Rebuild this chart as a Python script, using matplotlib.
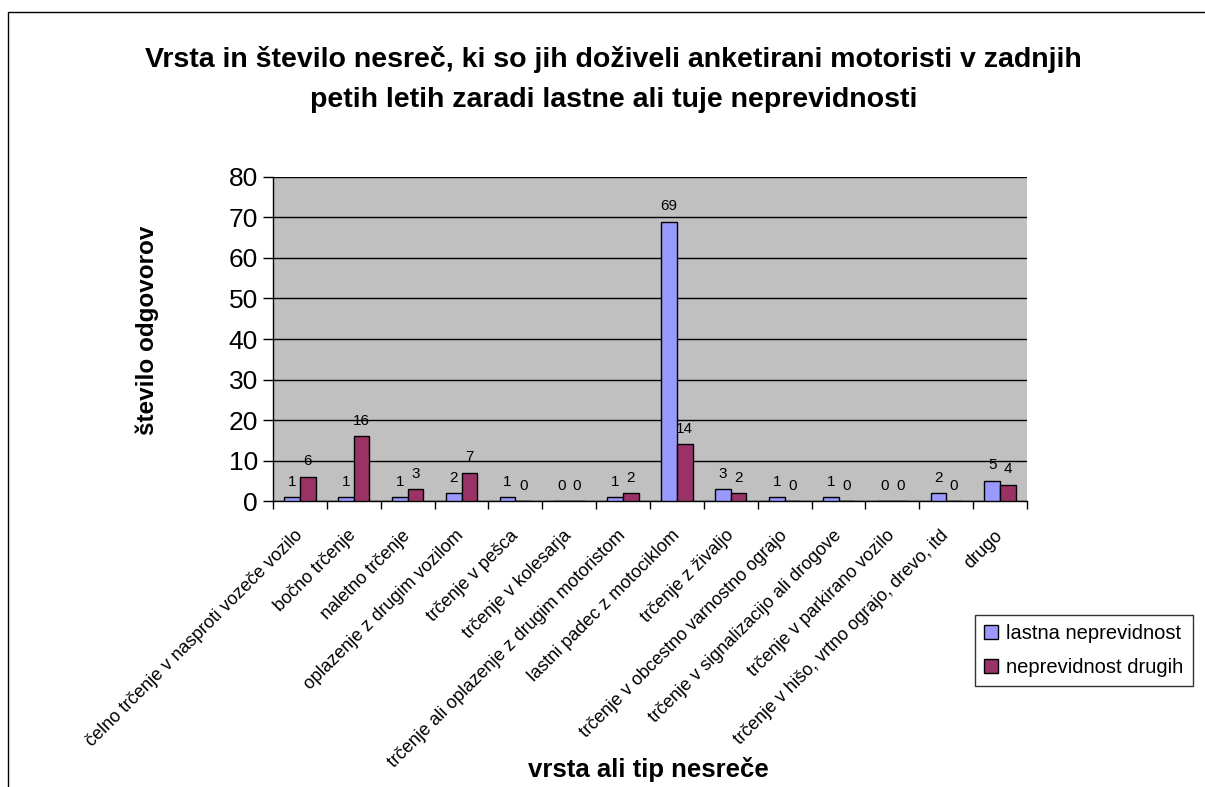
import numpy as np
import matplotlib
matplotlib.use("Agg")
import matplotlib.pyplot as plt
from matplotlib.patches import Rectangle

plt.rcParams['font.family'] = ['Liberation Sans', 'DejaVu Sans']

categories = [
    "čelno trčenje v nasproti vozeče vozilo",
    "bočno trčenje",
    "naletno trčenje",
    "oplazenje z drugim vozilom",
    "trčenje v pešca",
    "trčenje v kolesarja",
    "trčenje ali oplazenje z drugim motoristom",
    "lastni padec z motociklom",
    "trčenje z živaljo",
    "trčenje v obcestno varnostno ograjo",
    "trčenje v signalizacijo ali drogove",
    "trčenje v parkirano vozilo",
    "trčenje v hišo, vrtno ograjo, drevo, itd",
    "drugo",
]
lastna = [1, 1, 1, 2, 1, 0, 1, 69, 3, 1, 1, 0, 2, 5]
drugih = [6, 16, 3, 7, 0, 0, 2, 14, 2, 0, 0, 0, 0, 4]
series_names = ["lastna neprevidnost", "neprevidnost drugih"]
yticks = [0, 10, 20, 30, 40, 50, 60, 70, 80]

title = ("Vrsta in število nesreč, ki so jih doživeli anketirani motoristi v zadnjih\n"
         "petih letih zaradi lastne ali tuje neprevidnosti")

fig = plt.figure(figsize=(12.05, 7.87), dpi=100)
ax = fig.add_axes([0.2266, 0.3634, 0.6257, 0.4117])
ax.set_facecolor("#C0C0C0")

x = np.arange(len(categories))
w = 0.29
b1 = ax.bar(x - w / 2, lastna, w, color="#9999FF", edgecolor="black", linewidth=1,
            label=series_names[0], zorder=3)
b2 = ax.bar(x + w / 2, drugih, w, color="#993366", edgecolor="black", linewidth=1,
            label=series_names[1], zorder=3)

for bars, vals in ((b1, lastna), (b2, drugih)):
    for bar, v in zip(bars, vals):
        ax.annotate(str(v), (bar.get_x() + bar.get_width() / 2, v),
                    xytext=(0, 6), textcoords="offset points",
                    ha="center", va="bottom", fontsize=11)

ax.set_xlim(-0.5, len(categories) - 0.5)
ax.set_ylim(0, 80)
ax.set_yticks(yticks)
ax.tick_params(axis="y", labelsize=19, length=7, width=1, pad=4)
ax.yaxis.grid(True, color="black", linewidth=1, zorder=1)
ax.set_axisbelow(True)

# ticks between categories, labels at the centres
ax.set_xticks(np.arange(len(categories) + 1) - 0.5)
ax.set_xticklabels([])
ax.set_xticks(x, minor=True)
ax.set_xticklabels(categories, minor=True, rotation=45, ha="right",
                   va="center", rotation_mode="anchor", fontsize=13)
ax.tick_params(axis="x", which="major", length=6, width=1)
ax.tick_params(axis="x", which="minor", length=0, pad=23)

for side in ("top", "right"):
    ax.spines[side].set_visible(False)
for side in ("left", "bottom"):
    ax.spines[side].set_linewidth(1)

fig.text(0.509, 0.899, title, ha="center", va="center", fontsize=20.5,
         fontweight="bold", linespacing=1.7)
fig.text(0.122, 0.58, "število odgovorov", rotation=90, ha="center", va="center",
         fontsize=17.5, fontweight="bold")
fig.text(0.538, 0.022, "vrsta ali tip nesreče", ha="center", va="center",
         fontsize=18.5, fontweight="bold")

leg = fig.legend(handles=[b1, b2], loc="upper left",
                 bbox_to_anchor=(975 / 1205, 1 - 615 / 787),
                 fontsize=14.5, frameon=True, fancybox=False, edgecolor="black",
                 handlelength=0.7, handleheight=0.7, handletextpad=0.4,
                 borderpad=0.45, labelspacing=0.75, borderaxespad=0)
leg.get_frame().set_linewidth(1)

# outer chart border (cut off on the right and bottom)
fig.patches.append(Rectangle((8 / 1205, -0.05), 1.1, 1 - 12 / 787 + 0.05,
                             transform=fig.transFigure, fill=False,
                             edgecolor="black", linewidth=1))

fig.savefig("out.png", dpi=100)
